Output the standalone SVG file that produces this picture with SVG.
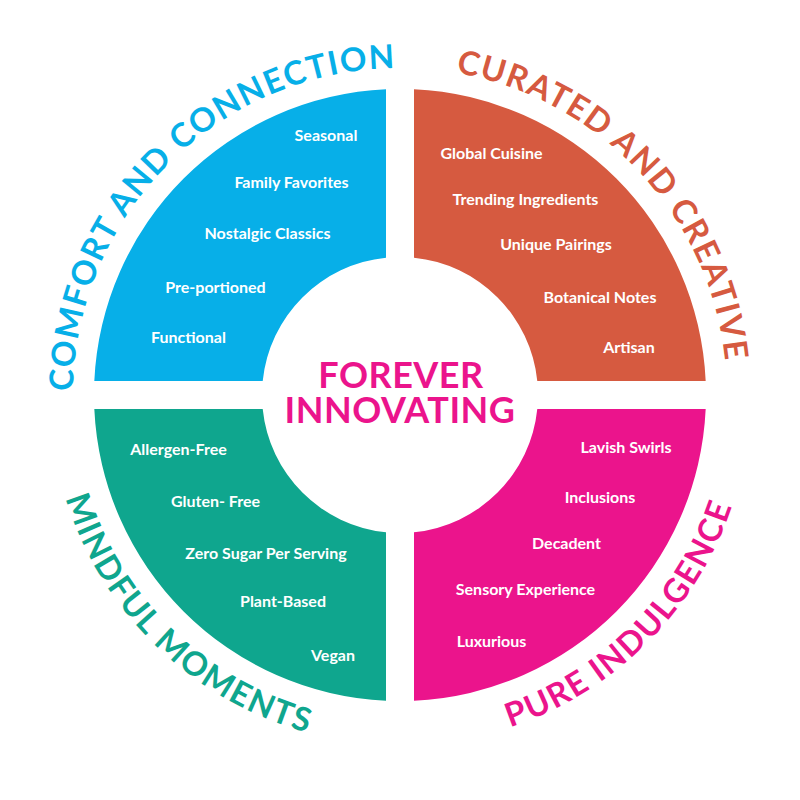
<svg xmlns="http://www.w3.org/2000/svg" width="800" height="800" viewBox="0 0 800 800">
  <style>
    .item { font-family: Lato, "Noto Sans", "DejaVu Sans", sans-serif; font-weight: 700; font-size: 16px; fill: #ffffff; text-anchor: middle; }
    .arc { font-family: Lato, "Noto Sans", "DejaVu Sans", sans-serif; font-weight: 700; font-size: 33px; letter-spacing: 1.5px; }
    .center { font-family: Lato, "Noto Sans", "DejaVu Sans", sans-serif; font-weight: 700; font-size: 36px; fill: #EB148C; text-anchor: middle; letter-spacing: 0.5px; }
  </style>
  <defs>
    <path id="arcTL" d="M 92.7 506.8 A 327 327 0 0 1 511.8 87.7"/>
    <path id="arcTR" d="M 299.0 84.0 A 327 327 0 0 1 703.2 517.5"/>
    <path id="arcBL" d="M 69.1 281.0 A 350 350 0 0 0 525.4 721.8"/>
    <path id="arcBR" d="M 280.3 723.9 A 350 350 0 0 0 728.9 275.3"/>
  </defs>
  <rect width="800" height="800" fill="#ffffff"/>

  <g id="comfort">
    <path d="M 94.32 381 A 306 306 0 0 1 386 89.32 L 386 257.71 A 138 138 0 0 0 262.71 381 Z" fill="#07AFE8"/>
    <text class="item" x="326" y="141">Seasonal</text>
    <text class="item" x="291.5" y="188">Family Favorites</text>
    <text class="item" x="267.5" y="239">Nostalgic Classics</text>
    <text class="item" x="215.5" y="293">Pre-portioned</text>
    <text class="item" x="188.5" y="343">Functional</text>
    <text class="arc" fill="#07AFE8"><textPath href="#arcTL" startOffset="50%" text-anchor="middle">COMFORT AND CONNECTION</textPath></text>
  </g>

  <g id="curated">
    <path d="M 414 89.32 A 306 306 0 0 1 705.68 381 L 537.29 381 A 138 138 0 0 0 414 257.71 Z" fill="#D65A40"/>
    <text class="item" x="491.5" y="159">Global Cuisine</text>
    <text class="item" x="525.5" y="205">Trending Ingredients</text>
    <text class="item" x="556" y="250">Unique Pairings</text>
    <text class="item" x="600" y="303">Botanical Notes</text>
    <text class="item" x="629" y="353">Artisan</text>
    <text class="arc" fill="#D65A40"><textPath href="#arcTR" startOffset="50%" text-anchor="middle">CURATED AND CREATIVE</textPath></text>
  </g>

  <g id="mindful">
    <path d="M 386 700.68 A 306 306 0 0 1 94.32 409 L 262.71 409 A 138 138 0 0 0 386 532.29 Z" fill="#0FA68E"/>
    <text class="item" x="178.5" y="455">Allergen-Free</text>
    <text class="item" x="215.5" y="507">Gluten- Free</text>
    <text class="item" x="266" y="559">Zero Sugar Per Serving</text>
    <text class="item" x="283" y="607">Plant-Based</text>
    <text class="item" x="333" y="661">Vegan</text>
    <text class="arc" fill="#0FA68E"><textPath href="#arcBL" startOffset="50%" text-anchor="middle">MINDFUL MOMENTS</textPath></text>
  </g>

  <g id="indulgence">
    <path d="M 705.68 409 A 306 306 0 0 1 414 700.68 L 414 532.29 A 138 138 0 0 0 537.29 409 Z" fill="#EB148C"/>
    <text class="item" x="626" y="453">Lavish Swirls</text>
    <text class="item" x="600" y="503">Inclusions</text>
    <text class="item" x="566.5" y="549">Decadent</text>
    <text class="item" x="525.5" y="595">Sensory Experience</text>
    <text class="item" x="491.5" y="647">Luxurious</text>
    <text class="arc" fill="#EB148C"><textPath href="#arcBR" startOffset="50%" text-anchor="middle">PURE INDULGENCE</textPath></text>
  </g>

  <g id="center">
    <text class="center" x="401" y="388">FOREVER</text>
    <text class="center" x="400" y="423">INNOVATING</text>
  </g>
</svg>
